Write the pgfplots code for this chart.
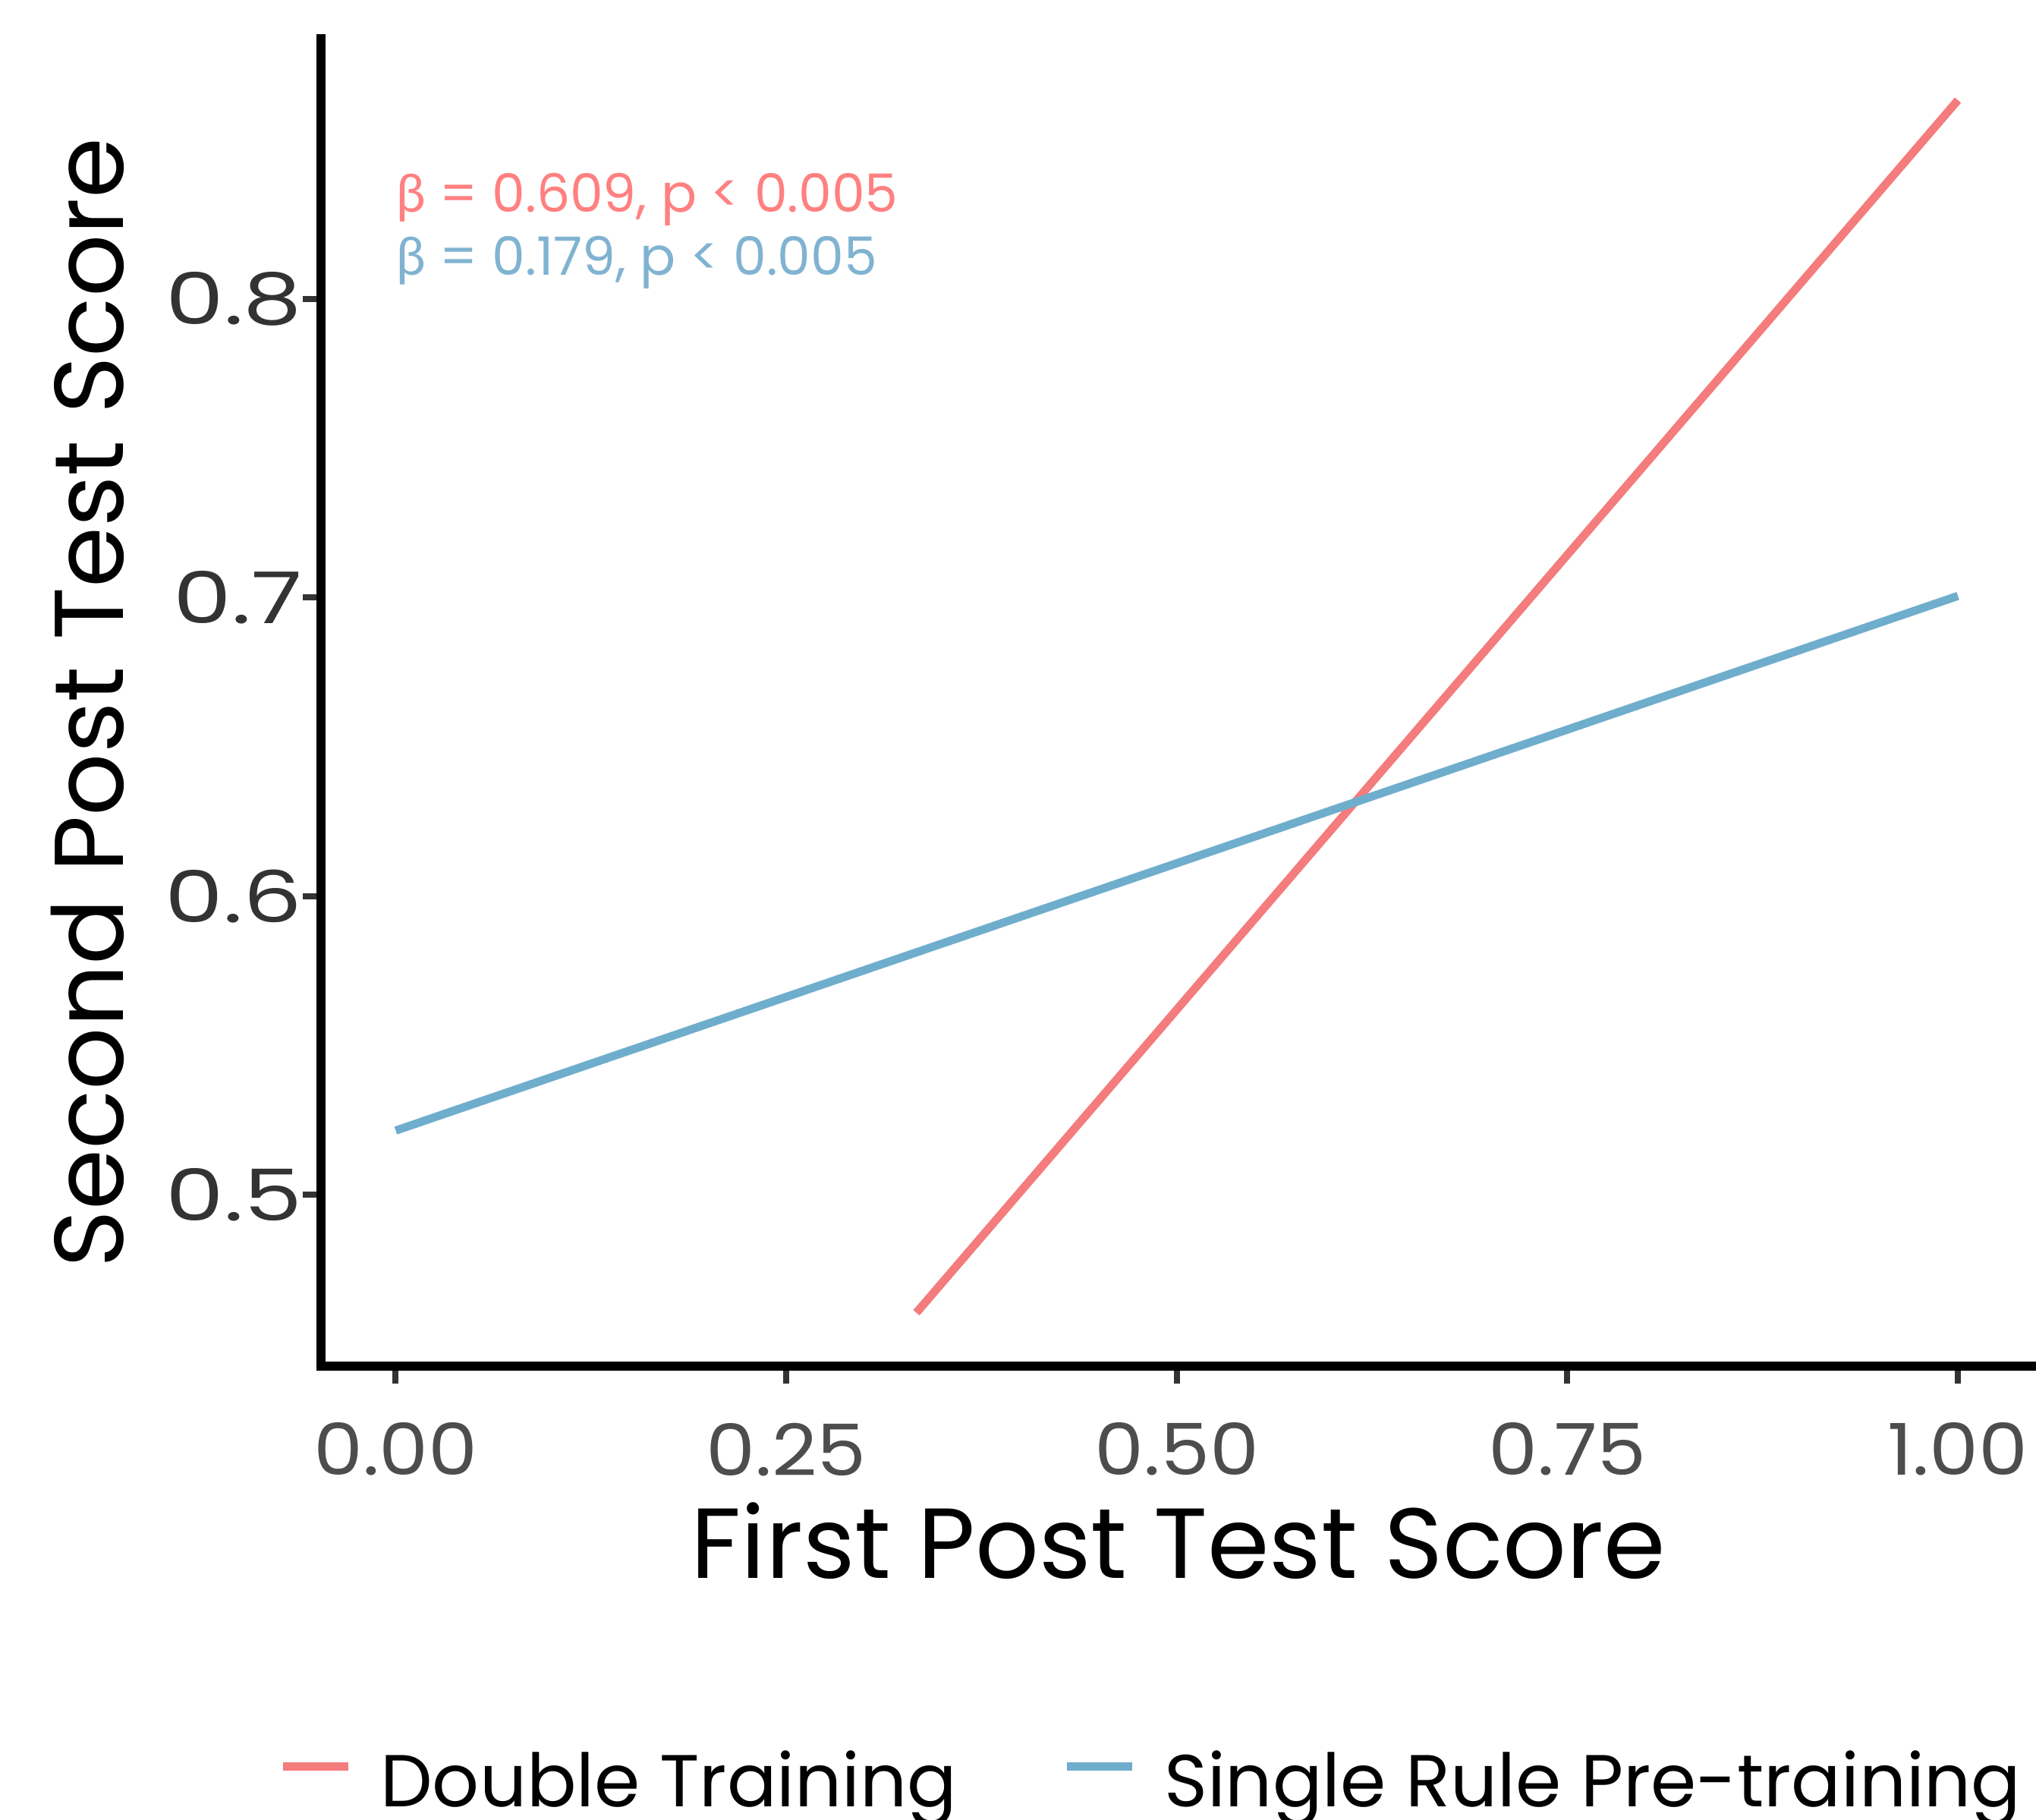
\documentclass[border=0pt]{standalone}
\usepackage{pgfplots}
\pgfplotsset{compat=1.18}
\usepackage{graphicx}
\usepackage{fontspec}
\setmainfont{Poppins}
\newfontfamily\betafont{Lato}
\definecolor{redl}{HTML}{F47C7C}
\definecolor{bluel}{HTML}{6FADCC}
\definecolor{redt}{HTML}{FF8080}
\definecolor{bluet}{HTML}{80B3D1}
\definecolor{ticklab}{HTML}{4D4D4D}
\definecolor{yticklab}{HTML}{333333}
\newcommand{\xt}[1]{\scalebox{1.1}[1]{#1}}
\newcommand{\yt}[1]{\scalebox{1.3}[1]{#1}}
\begin{document}
\begin{tikzpicture}
\path[use as bounding box] (0,0) rectangle (470.4pt,420.3pt);
\begin{axis}[
  at={(74.1pt,104.7pt)}, anchor=south west,
  scale only axis, width=396.3pt, height=306.6pt,
  xmin=-0.048, xmax=1.05, ymin=0.4426, ymax=0.887,
  axis lines=left,
  axis line style={-, line width=2.1pt, black, line cap=rect},
  xtick={0,0.25,0.5,0.75,1}, xticklabels={\xt{0.00},\xt{0.25},\xt{0.50},\xt{0.75},\xt{1.00}},
  ytick={0.5,0.6,0.7,0.8}, yticklabels={\yt{0.5},\yt{0.6},\yt{0.7},\yt{0.8}},
  tick align=outside, major tick length=4.1pt,
  tick style={line width=1.4pt, color=black!80},
  /pgf/number format/assume math mode=true,
  xticklabel style={font=\fontsize{16.5}{20}\selectfont, text=ticklab, anchor=north, inner sep=0pt, yshift=-8.8pt},
  yticklabel style={font=\fontsize{16.5}{20}\selectfont, text=yticklab, anchor=east, inner sep=0pt},
  xlabel={First Post Test Score},
  ylabel={Second Post Test Score},
  xlabel style={font=\fontsize{23}{27}\selectfont, at={(axis description cs:0.5,-0.1595)}, anchor=base},
  ylabel style={font=\fontsize{22.6}{27}\selectfont, at={(axis description cs:-0.1151,0.5)}, anchor=base},
  legend columns=2,
  legend style={at={(-0.0242,-0.313)}, anchor=west, draw=none, fill=none, inner sep=0pt, outer sep=0pt,
    font=\fontsize{17}{20}\selectfont, nodes={inner sep=0pt},
    /tikz/every odd column/.append style={column sep=6.5pt},
    /tikz/every even column/.append style={column sep=24.5pt}},
  legend image code/.code={\draw[#1, line width=1.9pt] (-1pt,0.35em) -- (14pt,0.35em);},
]
\addplot[redl, line width=1.9pt] coordinates {(0.3333,0.4605) (1.0,0.8665)};
\addlegendentry{Double Training}
\addplot[bluel, line width=1.9pt] coordinates {(0,0.5215) (1.0,0.7005)};
\addlegendentry{Single Rule Pre-training}
\node[anchor=base west, inner sep=0pt, text=redt, font=\fontsize{12.2}{14}\selectfont] at (axis cs:0,0.829) {{\betafont β} = 0.609, p < 0.005};
\node[anchor=base west, inner sep=0pt, text=bluet, font=\fontsize{12.2}{14}\selectfont] at (axis cs:0,0.8078) {{\betafont β} = 0.179, p < 0.005};
\end{axis}
\end{tikzpicture}
\end{document}
